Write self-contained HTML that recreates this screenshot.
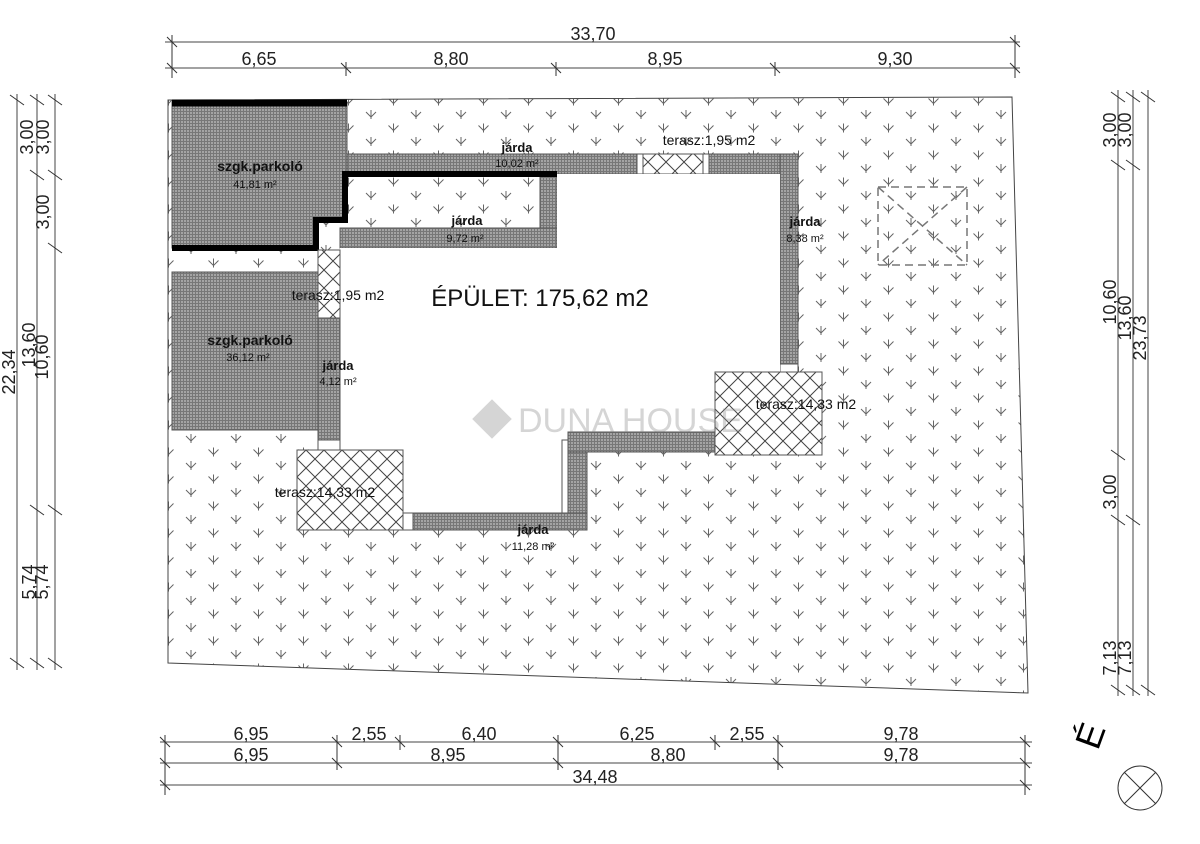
<!DOCTYPE html>
<html><head><meta charset="utf-8"><style>html,body{margin:0;padding:0;background:#fff}svg{display:block}text{font-family:"Liberation Sans",sans-serif}</style></head><body>
<svg width="1200" height="844" viewBox="0 0 1200 844" xmlns="http://www.w3.org/2000/svg">
<defs>
<pattern id="grass" width="45" height="27" patternUnits="userSpaceOnUse">
<g fill="none" stroke="#666" stroke-width="1">
<path d="M6 4 L11 9 L16 4 M11 2 V11"/>
<path d="M28.5 17.5 L33.5 22.5 L38.5 17.5 M33.5 15.5 V24.5"/>
</g></pattern>
<pattern id="grid" width="3" height="3" patternUnits="userSpaceOnUse">
<rect width="3" height="3" fill="#a4a4a4"/><path d="M0 0.5H3M0.5 0V3" stroke="#777" stroke-width="1"/></pattern>
<pattern id="hatch" width="18" height="18" patternUnits="userSpaceOnUse">
<rect width="18" height="18" fill="#fff"/><path d="M0 0L18 18M18 0L0 18" stroke="#444" stroke-width="1"/></pattern>
</defs>

<polygon points="168,100 1012,97 1028,693 168,663" fill="url(#grass)" stroke="#444" stroke-width="1"/>

<polygon points="172,102 347,102 347,175 345,175 345,220 316,220 316,248 172,248" fill="url(#grid)" stroke="#555"/>
<rect x="347" y="154" width="290" height="20" fill="url(#grid)" stroke="#555"/>
<rect x="637" y="154" width="6" height="20" fill="#fff" stroke="#555"/>
<rect x="643" y="154" width="60" height="20" fill="url(#hatch)" stroke="#555"/>
<rect x="703" y="154" width="6" height="20" fill="#fff" stroke="#555"/>
<rect x="709" y="154" width="89" height="20" fill="url(#grid)" stroke="#555"/>
<rect x="780" y="154" width="18" height="210" fill="url(#grid)" stroke="#555"/>
<rect x="780" y="364" width="18" height="8" fill="#fff" stroke="#555"/>
<rect x="540" y="175" width="17" height="55" fill="url(#grid)" stroke="#555"/>
<rect x="340" y="228" width="217" height="20" fill="url(#grid)" stroke="#555"/>
<path d="M172 103 H347" stroke="#000" stroke-width="7" fill="none"/>
<path d="M557 174 H345 V220 H316 V248 H172" stroke="#000" stroke-width="6" fill="none"/>
<polygon points="340,248 557,248 557,174 780,174 780,372 715,372 715,432 568,432 568,513 405,513 403,450 340,450" fill="#fff"/>
<rect x="172" y="272" width="146" height="158" fill="url(#grid)" stroke="#555"/>
<rect x="318" y="250" width="22" height="68" fill="url(#hatch)" stroke="#555"/>
<rect x="318" y="318" width="22" height="122" fill="url(#grid)" stroke="#555"/>
<rect x="318" y="440" width="22" height="10" fill="#fff" stroke="#555"/>
<rect x="297" y="450" width="106" height="80" fill="url(#hatch)" stroke="#555"/>
<rect x="715" y="372" width="107" height="83" fill="url(#hatch)" stroke="#555"/>
<rect x="568" y="432" width="147" height="20" fill="url(#grid)" stroke="#555"/>
<rect x="562" y="440" width="6" height="73" fill="#fff" stroke="#555"/>
<rect x="568" y="452" width="19" height="78" fill="url(#grid)" stroke="#555"/>
<rect x="403" y="513" width="10" height="17" fill="#fff" stroke="#555"/>
<rect x="413" y="513" width="174" height="17" fill="url(#grid)" stroke="#555"/>
<g stroke="#777" stroke-width="1.5" stroke-dasharray="8,5" fill="none">
<rect x="878" y="187" width="89" height="78"/><path d="M878 187L967 265M967 187L878 265"/></g>

<g opacity="0.35">
<rect x="478" y="405" width="28" height="28" transform="rotate(45 492 419)" fill="#888"/>
<text x="518" y="432" font-family="Liberation Serif,serif" font-size="34" fill="#888">DUNA HOUSE</text>
</g>

<g font-size="13" fill="#111" text-anchor="middle">
<text x="260" y="171" font-weight="bold" font-size="14">szgk.parkoló</text>
<text x="255" y="188" font-size="11">41,81 m²</text>
<text x="250" y="345" font-weight="bold" font-size="14">szgk.parkoló</text>
<text x="248" y="361" font-size="11">36,12 m²</text>
<text x="517" y="152" font-weight="bold">járda</text>
<text x="517" y="167" font-size="11">10,02 m²</text>
<text x="467" y="225" font-weight="bold">járda</text>
<text x="465" y="242" font-size="11">9,72 m²</text>
<text x="805" y="226" font-weight="bold">járda</text>
<text x="805" y="242" font-size="11">8,38 m²</text>
<text x="338" y="370" font-weight="bold">járda</text>
<text x="338" y="385" font-size="11">4,12 m²</text>
<text x="533" y="534" font-weight="bold">járda</text>
<text x="533" y="550" font-size="11">11,28 m²</text>
<text x="709" y="145" font-size="14">terasz:1,95 m2</text>
<text x="338" y="300" font-size="14">terasz:1,95 m2</text>
<text x="325" y="497" font-size="14">terasz:14,33 m2</text>
<text x="806" y="409" font-size="14">terasz:14,33 m2</text>
<text x="540" y="306" font-size="24">ÉPÜLET: 175,62 m2</text>
</g>

<g stroke="#444" stroke-width="1" fill="none">
<path d="M165 42H1020M165 68H1020"/>
<path d="M160 742H1032M160 763H1032M160 785H1032"/>
<path d="M17 94V670M37 94V670M55 94V670"/>
<path d="M1118 90V696M1133 90V696M1148 90V696"/>
<g stroke="#333">
<path d="M172 35V78M1015 35V78M346 62V76M556 62V76M775 62V76"/>
<path d="M167 37L177 47M1010 37L1020 47M167 63L177 73M341 63L351 73M551 63L561 73M770 63L780 73M1010 63L1020 73"/>
<path d="M165 735V795M1025 735V795M337 735V770M400 735V750M558 735V770M715 735V750M778 735V770"/>
<path d="M160 737L170 747M332 737L342 747M395 737L405 747M553 737L563 747M710 737L720 747M773 737L783 747M1020 737L1030 747M160 758L170 768M332 758L342 768M553 758L563 768M773 758L783 768M1020 758L1030 768M160 780L170 790M1020 780L1030 790"/>
<path d="M10 95L24 105M30 95L44 105M48 95L62 105M30 170L44 180M48 170L62 180M48 243L62 253M30 505L44 515M48 505L62 515M10 658L24 668M30 658L44 668M48 658L62 668"/>
<path d="M1111 92L1125 102M1126 92L1140 102M1141 92L1155 102M1111 160L1125 170M1126 160L1140 170M1111 450L1125 460M1111 515L1125 525M1126 515L1140 525M1111 685L1125 695M1126 685L1140 695M1141 685L1155 695"/>
</g></g>
<g font-size="18" fill="#222" text-anchor="middle">
<text x="593" y="40">33,70</text>
<text x="259" y="65">6,65</text><text x="451" y="65">8,80</text><text x="665" y="65">8,95</text><text x="895" y="65">9,30</text>
<text x="251" y="740">6,95</text><text x="369" y="740">2,55</text><text x="479" y="740">6,40</text><text x="637" y="740">6,25</text><text x="747" y="740">2,55</text><text x="901" y="740">9,78</text>
<text x="251" y="761">6,95</text><text x="448" y="761">8,95</text><text x="668" y="761">8,80</text><text x="901" y="761">9,78</text>
<text x="595" y="783">34,48</text>
<text transform="translate(15,372) rotate(-90)">22,34</text>
<text transform="translate(33,137) rotate(-90)">3,00</text>
<text transform="translate(49,137) rotate(-90)">3,00</text>
<text transform="translate(49,212) rotate(-90)">3,00</text>
<text transform="translate(35,345) rotate(-90)">13,60</text>
<text transform="translate(48,357) rotate(-90)">10,60</text>
<text transform="translate(35,582) rotate(-90)">5,74</text>
<text transform="translate(48,582) rotate(-90)">5,74</text>
<text transform="translate(1116,130) rotate(-90)">3,00</text>
<text transform="translate(1131,130) rotate(-90)">3,00</text>
<text transform="translate(1116,302) rotate(-90)">10,60</text>
<text transform="translate(1131,318) rotate(-90)">13,60</text>
<text transform="translate(1146,338) rotate(-90)">23,73</text>
<text transform="translate(1116,492) rotate(-90)">3,00</text>
<text transform="translate(1116,658) rotate(-90)">7,13</text>
<text transform="translate(1131,658) rotate(-90)">7,13</text>
</g>
<text transform="translate(1102,740) rotate(-70)" font-size="36" fill="#000" text-anchor="middle">É</text>
<g stroke="#333" fill="none"><circle cx="1140" cy="788" r="22"/><path d="M1124 772L1156 804M1156 772L1124 804"/></g>
</svg>
</body></html>
